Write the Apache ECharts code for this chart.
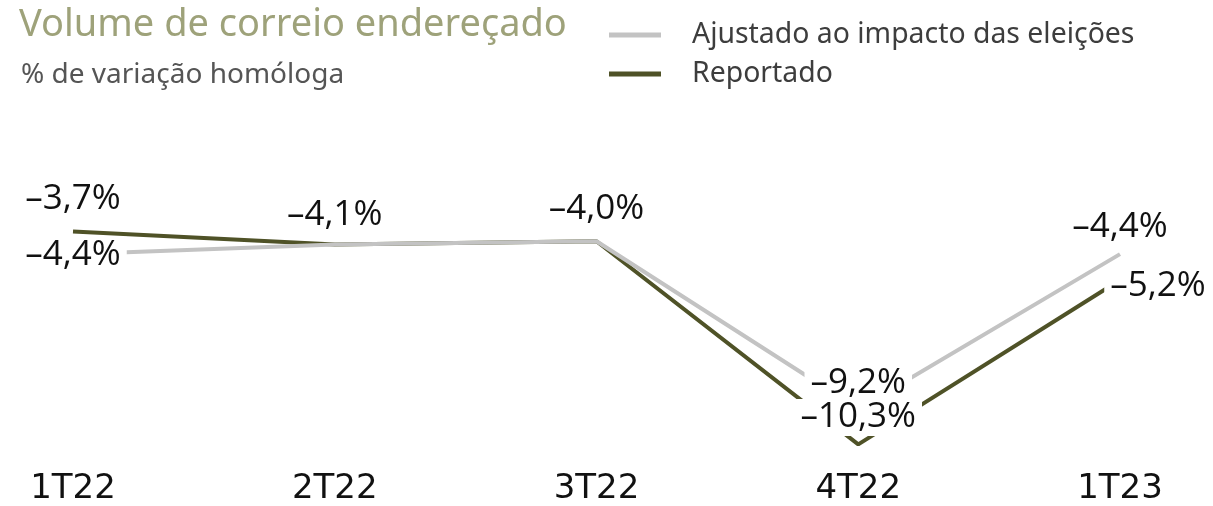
<!DOCTYPE html>
<html>
<head>
<meta charset="utf-8">
<script src="https://cdn.jsdelivr.net/npm/echarts@6/dist/echarts.min.js"></script>
<style>
    html, body { margin: 0; padding: 0; background: #fff; }
    #chart { width: 1213px; height: 506px; }
</style>
</head>
<body>
<div id="chart"></div>
<script>
const quarters = ['1T22', '2T22', '3T22', '4T22', '1T23'];
const ajustado = [-4.4, -4.1, -4.0, -9.2, -4.4];
const reportado = [-3.7, -4.1, -4.0, -10.3, -5.2];
// which points carry a label (2T22/3T22 are shared, shown once)
const ajustadoShow = [true, false, false, true, true];
const reportadoShow = [true, true, true, true, true];
const ajustadoOffset = [[0, 1], null, null, [0, -26], [0, -27]];
const reportadoOffset = [[0, -33], [0, -29], [0, -32], [0, -27], [38, 6]];

const GREEN = '#4f5227';
const GRAY = '#c3c3c3';
const NAME_A = 'Ajustado ao impacto das eleições';
const NAME_R = 'Reportado';

function fmt(v) {
    return '\u2013' + Math.abs(v).toFixed(1).replace('.', ',') + '%';
}

function build(values, show, offsets) {
    let data = [];
    for (let i = 0; i < values.length; i++) {
        data.push({
            value: values[i],
            label: show[i] ? {show: true, offset: offsets[i]} : {show: false}
        });
    }
    return data;
}

const labelStyle = {
    position: 'inside',
    formatter: p => fmt(p.value),
    fontFamily: 'Open Sans',
    fontSize: 35,
    color: '#111',
    backgroundColor: '#fff',
    padding: [1, 6]
};

// the lines themselves, gray over green
function lineSeries(name, values, color, z) {
    return {
        name: name,
        type: 'line',
        z: z,
        symbol: 'none',
        color: color,
        lineStyle: {width: 4, color: color},
        data: values
    };
}

// invisible copies on top that only carry the labels (white boxes hide the lines)
function labelSeries(values, show, offsets) {
    return {
        type: 'line',
        z: 10,
        silent: true,
        symbol: 'circle',
        symbolSize: 0,
        lineStyle: {width: 0, opacity: 0},
        label: labelStyle,
        data: build(values, show, offsets)
    };
}

echarts.init(document.getElementById('chart')).setOption({
    animation: false,
    title: [{
        left: 14,
        top: 1,
        text: 'Volume de correio endereçado',
        textStyle: {fontFamily: 'Noto Sans', fontSize: 38, fontWeight: 'normal', color: '#9ea27a'}
    }, {
        left: 16,
        top: 56,
        text: '% de variação homóloga',
        textStyle: {fontFamily: 'Noto Sans', fontSize: 28, fontWeight: 'normal', color: '#555'}
    }],
    legend: {
        orient: 'vertical',
        left: 604,
        top: 15,
        icon: 'rect',
        itemWidth: 52,
        itemHeight: 5,
        itemGap: 9,
        data: [NAME_A, NAME_R],
        textStyle: {
            fontFamily: 'Noto Sans',
            fontSize: 28.4,
            lineHeight: 30,
            color: '#3d3d3d',
            padding: [0, 0, 0, 26]
        }
    },
    grid: {left: 73, right: 93, top: 209, bottom: 31},
    xAxis: {
        type: 'category',
        boundaryGap: false,
        data: quarters,
        axisLine: {show: false},
        axisTick: {show: false},
        axisLabel: {
            margin: 5,
            fontFamily: 'DejaVu Sans',
            fontSize: 34,
            color: '#111'
        }
    },
    yAxis: {
        type: 'value',
        min: -11,
        max: -3,
        show: false
    },
    series: [
        lineSeries(NAME_R, reportado, GREEN, 2),
        lineSeries(NAME_A, ajustado, GRAY, 3),
        labelSeries(reportado, reportadoShow, reportadoOffset),
        labelSeries(ajustado, ajustadoShow, ajustadoOffset)
    ]
});
</script>
</body>
</html>
